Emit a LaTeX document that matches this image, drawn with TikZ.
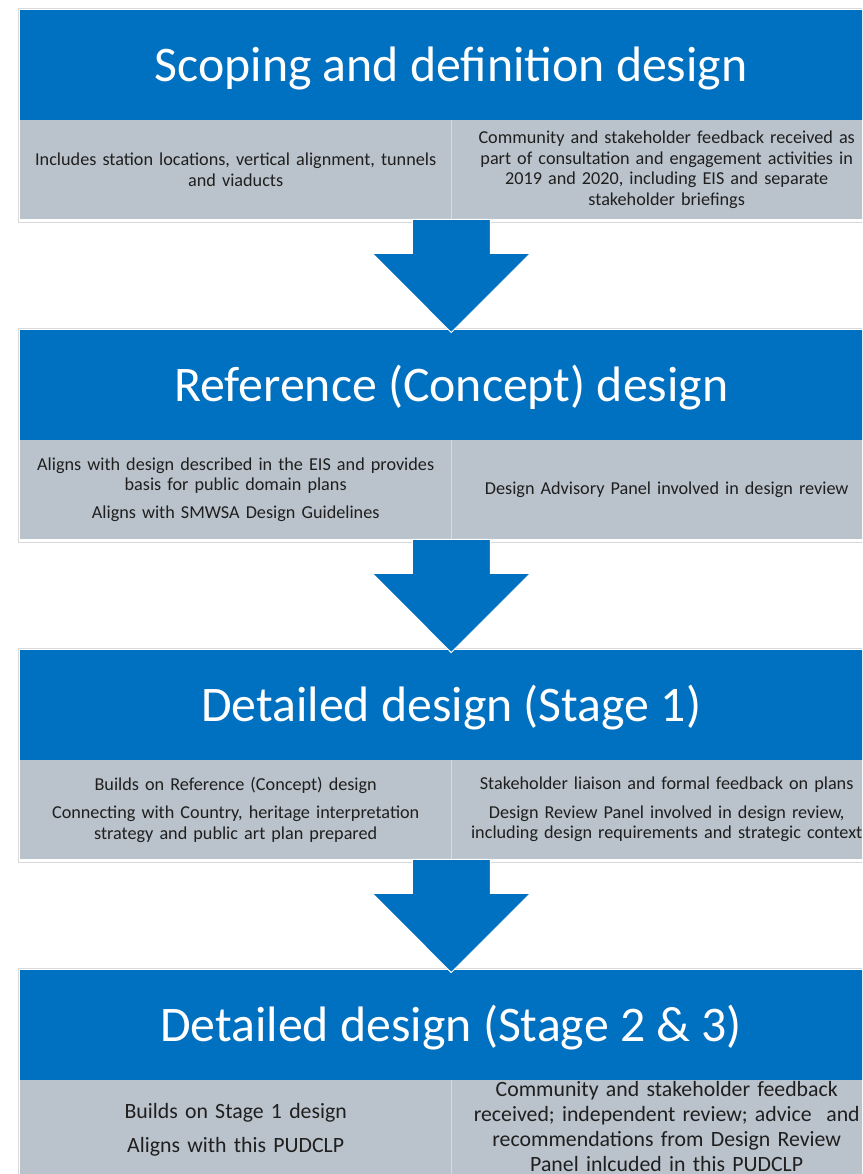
\documentclass[tikz,border=0pt]{standalone}
\usepackage{fontspec}
\setmainfont{Carlito}
\usetikzlibrary{calc}

\definecolor{stageblue}{RGB}{0,112,192}
\definecolor{notegray}{RGB}{186,195,203}

\tikzset{
	stagebox/.style={fill=stageblue, text=white, anchor=north west, inner sep=0pt,
		minimum width=862pt, minimum height=110pt, text height=38pt, text depth=6pt,
		font=\fontsize{49.8}{58}\selectfont},
	notecell/.style={fill=notegray, text=black!88, anchor=north west, inner sep=0pt,
		minimum width=431pt, minimum height=99pt, text width=428pt, align=center,
		font=\fontsize{18.2}{20.5}\selectfont},
	bigcell/.style={notecell, font=\fontsize{21.8}{24.8}\selectfont},
	rim/.style={draw=black!15, line width=0.8pt},
	cellrule/.style={draw=notegray!60!white, line width=0.6pt},
	downarrow/.style={fill=stageblue, draw=white, line width=1pt, line join=miter},
}

\begin{document}
\begin{tikzpicture}[x=1pt,y=-1pt]
	
	\clip (0,0) rectangle (862,1174);
	\fill[white] (0,0) rectangle (862,1174);
	
	% scoping and definition
	\draw[rim] (18.5,8) rectangle (884,222);
	\node[stagebox] (scope) at (20,10) {Scoping and definition design};
	\node[notecell] (scopeL) at (20,120)
	{Includes station locations, vertical alignment, tunnels\\ and viaducts};
	\node[notecell] (scopeR) at (451,120)
	{Community and stakeholder feedback received as\\ part of consultation and engagement activities in\\ 2019 and 2020, including EIS and separate\\ stakeholder briefings};
	\draw[cellrule] (scopeL.north east) -- (scopeL.south east);
	
	% reference (concept)
	\draw[rim] (18.5,328) rectangle (884,542);
	\node[stagebox] (concept) at (20,330) {Reference (Concept) design};
	\node[notecell] (conceptL) at (20,440)
	{Aligns with design described in the EIS and provides\\ basis for public domain plans\\[7pt] Aligns with SMWSA Design Guidelines};
	\node[notecell] (conceptR) at (451,440)
	{Design Advisory Panel involved in design review};
	\draw[cellrule] (conceptL.north east) -- (conceptL.south east);
	
	% detailed stage 1
	\draw[rim] (18.5,648) rectangle (884,862);
	\node[stagebox] (stageone) at (20,650) {Detailed design (Stage 1)};
	\node[notecell] (stageoneL) at (20,760)
	{Builds on Reference (Concept) design\\[8pt] Connecting with Country, heritage interpretation\\ strategy and public art plan prepared};
	\node[notecell] (stageoneR) at (451,760)
	{Stakeholder liaison and formal feedback on plans\\[8pt] Design Review Panel involved in design review,\\ including design requirements and strategic context};
	\draw[cellrule] (stageoneL.north east) -- (stageoneL.south east);
	
	% detailed stage 2 and 3
	\draw[rim] (18.5,968) rectangle (884,1190);
	\node[stagebox] (stagetwo) at (20,970) {Detailed design (Stage 2 \& 3)};
	\node[bigcell] (stagetwoL) at (20,1080)
	{Builds on Stage 1 design\\[9pt] Aligns with this PUDCLP};
	\node[bigcell, text height=9pt] (stagetwoR) at (451,1080)
	{Community and stakeholder feedback\\ received; independent review; advice~ and\\ recommendations from Design Review\\ Panel inlcuded in this PUDCLP};
	\draw[cellrule] (stagetwoL.north east) -- (stagetwoL.south east);
	
	% arrows
	\draw[downarrow] ($(scopeL.south east)+(-39,0)$) -- ++(0,34) -- ++(-40,0)
	-- ($(concept.north)+(0,2.5)$) -- ($(scopeL.south east)+(79,34)$)
	-- ++(-40,0) -- ++(0,-34) -- cycle;
	\draw[downarrow] ($(conceptL.south east)+(-39,0)$) -- ++(0,34) -- ++(-40,0)
	-- ($(stageone.north)+(0,2.5)$) -- ($(conceptL.south east)+(79,34)$)
	-- ++(-40,0) -- ++(0,-34) -- cycle;
	\draw[downarrow] ($(stageoneL.south east)+(-39,0)$) -- ++(0,34) -- ++(-40,0)
	-- ($(stagetwo.north)+(0,2.5)$) -- ($(stageoneL.south east)+(79,34)$)
	-- ++(-40,0) -- ++(0,-34) -- cycle;
	
\end{tikzpicture}
\end{document}
